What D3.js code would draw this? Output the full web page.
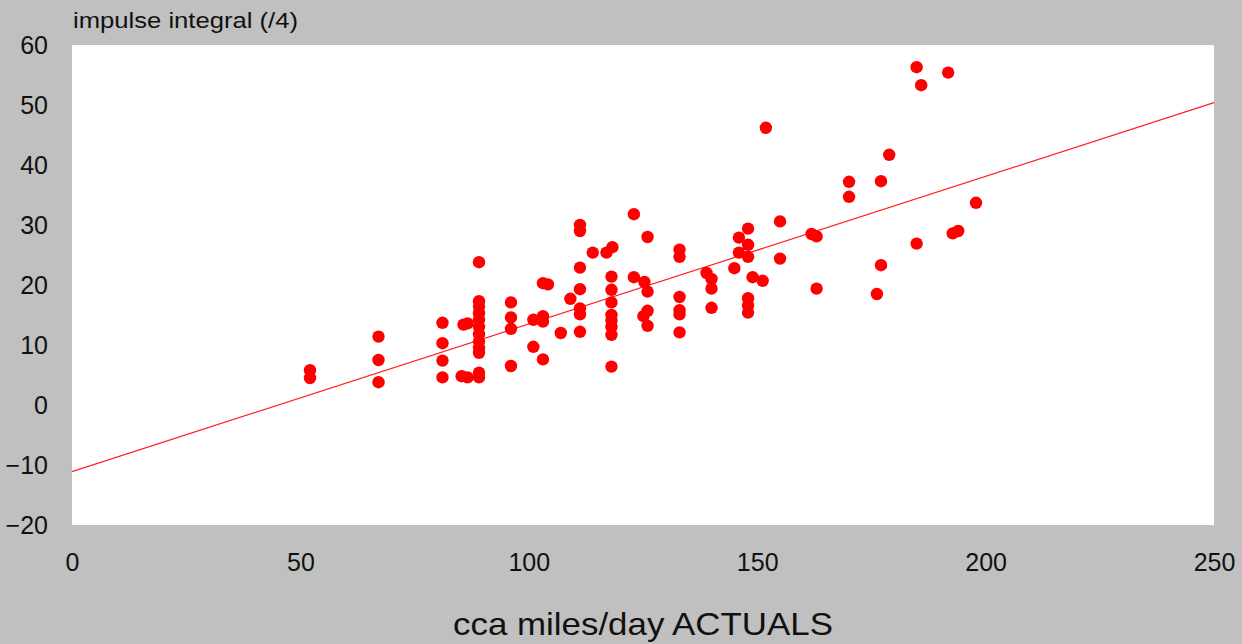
<!DOCTYPE html>
<html>
<head>
<meta charset="utf-8">
<script src="https://cdn.jsdelivr.net/npm/d3@7"></script>
<style>
  body { margin: 0; background: #c0c0c0; }
  text { font-family: "Liberation Sans", Arial, sans-serif; fill: #111; }
</style>
</head>
<body>
<div id="chart"></div>
<script>
// miles/day (x) and impulse integral /4 (y)
var milesPerDay = [52.1, 52.1, 67.1, 67.1, 67.1, 81.1, 81.1, 81.1, 81.1, 85.7, 86.6, 85.3, 86.6,
  89.1, 89.1, 89.1, 89.1, 89.1, 89.1, 89.1, 89.1, 89.1, 89.1, 89.1, 89.1,
  96.1, 96.1, 96.1, 96.1, 101, 101, 103.1, 103.1, 103.1, 103.1, 104.2, 107, 109.1,
  111.2, 111.2, 111.2, 111.2, 111.2, 111.2, 111.2, 114, 117, 118.3,
  118.1, 118.1, 118.1, 118.1, 118.1, 118.1, 118.1, 118.1,
  123, 126, 123, 125.3, 126, 126, 125.1, 126,
  133, 133, 133, 133, 133, 133, 138.9, 140, 140, 140, 145, 146, 146,
  148, 148, 148, 149, 151.2, 148, 148, 148, 151.9, 155, 155,
  161.9, 163, 163, 170.1, 170.1, 177.1, 178.9, 177.1, 176.2,
  184.9, 192.8, 194, 197.9, 184.9, 185.9, 191.8];
var impulse = [5.8, 4.5, 11.4, 7.5, 3.8, 13.7, 10.3, 7.4, 4.6, 13.4, 13.6, 4.8, 4.6,
  23.8, 17.3, 16.4, 15.3, 14.2, 13.0, 11.8, 10.6, 9.5, 8.7, 5.4, 4.6,
  17.1, 14.6, 12.7, 6.5, 9.7, 14.2, 14.8, 13.9, 7.6, 20.3, 20.1, 12, 17.7,
  30.0, 29.0, 22.9, 19.3, 16.1, 15.1, 12.2, 25.4, 25.4, 26.3,
  21.4, 19.2, 17.1, 15.0, 14.1, 13.0, 11.7, 6.4,
  31.8, 28, 21.3, 20.5, 18.9, 15.7, 14.8, 13.2,
  25.9, 24.7, 18, 15.8, 15.1, 12.1, 22, 21, 19.4, 16.2, 22.8, 27.9, 25.4,
  29.4, 26.7, 24.7, 21.3, 20.7, 17.8, 16.6, 15.4, 46.2, 30.6, 24.4,
  28.5, 28.1, 19.4, 37.2, 34.7, 37.3, 41.7, 23.3, 18.5,
  26.9, 28.6, 29, 33.7, 56.3, 53.3, 55.4];

// regression line end points
var trendX = [0, 250];
var trendY = [-11.1, 50.4];

var xTicks = [0, 50, 100, 150, 200, 250];
var yTicks = [-20, -10, 0, 10, 20, 30, 40, 50, 60];

var W = 1242, H = 644;
var margin = {top: 45, right: 28, bottom: 119, left: 72};
var width = W - margin.left - margin.right, height = H - margin.top - margin.bottom;

var svg = d3.select("#chart").append("svg")
    .attr("width", W)
    .attr("height", H);

svg.append("rect")
    .attr("width", W).attr("height", H)
    .attr("fill", "#c0c0c0");

var g = svg.append("g")
    .attr("transform", "translate(" + margin.left + "," + margin.top + ")");

var x = d3.scaleLinear().domain([0, 250]).range([0, width]);
var y = d3.scaleLinear().domain([-20, 60]).range([height, 0]);

g.append("rect")
    .attr("width", width).attr("height", height)
    .attr("fill", "#fff");

var xAxis = d3.axisBottom(x).tickValues(xTicks).tickSize(0).tickPadding(28);
var yAxis = d3.axisLeft(y).tickValues(yTicks).tickSize(0).tickPadding(24);

g.append("g")
    .attr("class", "x axis")
    .attr("transform", "translate(0," + height + ")")
    .call(xAxis)
  .call(function(s){ s.select(".domain").remove(); })
  .selectAll("text")
    .style("font-size", "25px")
    .attr("fill", "#111");

g.append("g")
    .attr("class", "y axis")
    .call(yAxis)
  .call(function(s){ s.select(".domain").remove(); })
  .selectAll("text")
    .style("font-size", "25px")
    .attr("fill", "#111");

var pts = milesPerDay.map(function(d, i){ return {x: d, y: impulse[i]}; });

var line = d3.line()
    .x(function(d){ return x(d[0]); })
    .y(function(d){ return y(d[1]); });

g.append("path")
    .datum(trendX.map(function(d, i){ return [d, trendY[i]]; }))
    .attr("d", line)
    .attr("fill", "none")
    .attr("stroke", "#ff2020")
    .attr("stroke-width", 1.2);

g.selectAll("circle")
    .data(pts)
  .enter().append("circle")
    .attr("cx", function(d){ return x(d.x); })
    .attr("cy", function(d){ return y(d.y); })
    .attr("r", 6.2)
    .attr("fill", "#ff0000");

svg.append("text")
    .attr("x", 73)
    .attr("y", 28)
    .attr("textLength", 225)
    .attr("lengthAdjust", "spacingAndGlyphs")
    .style("font-size", "22px")
    .text("impulse integral (/4)");

svg.append("text")
    .attr("x", margin.left + width / 2)
    .attr("y", 635)
    .attr("text-anchor", "middle")
    .attr("textLength", 380)
    .attr("lengthAdjust", "spacingAndGlyphs")
    .style("font-size", "32px")
    .text("cca miles/day ACTUALS");
</script>
</body>
</html>
